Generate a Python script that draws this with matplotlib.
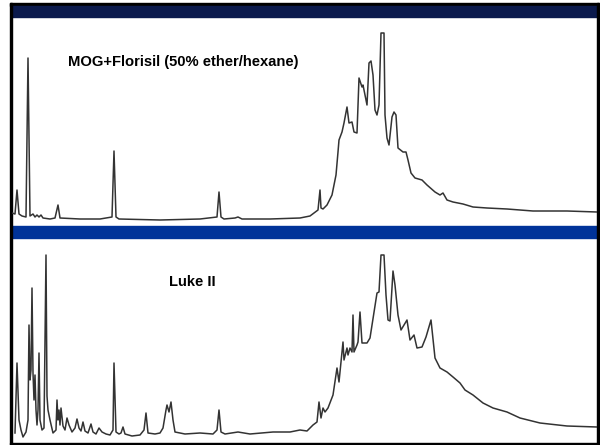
import matplotlib
matplotlib.use('Agg')
import matplotlib.pyplot as plt
from matplotlib.patches import Rectangle

# top trace: MOG + Florisil, retention position and detector response
mog_time = [12, 15, 17, 19, 22, 26, 28, 30, 33, 35, 37, 39, 41, 43, 50, 55, 58, 60,
            80, 100, 112, 114, 116, 119, 160, 200, 217, 219, 221, 224, 235, 238, 242,
            270, 300, 310, 318, 320, 321, 323, 327, 332, 336, 338, 339, 342, 344, 347,
            349, 352, 354, 357, 359, 362, 363, 365, 367, 369, 371, 373, 375, 377,
            379, 381, 384, 385, 387, 389, 392, 394, 396, 398, 403, 406, 408, 411, 415,
            422, 427, 435, 440, 443, 447, 453, 463, 473, 487, 507, 533, 567, 597]
mog_resp = [12, 11, 35, 11, 9, 8, 167, 9, 11, 8, 10, 8, 10, 7, 6, 7, 20, 7,
            6, 6, 8, 74, 8, 6, 5, 6, 8, 33, 8, 6, 7, 8, 6,
            6, 7, 9, 15, 35, 17, 16, 20, 30, 50, 73, 85, 93, 102, 118,
            102, 103, 93, 92, 147, 138, 140, 130, 120, 162, 164, 150, 115, 110,
            120, 192, 192, 110, 87, 80, 108, 113, 110, 77, 73, 73, 65, 52, 47,
            45, 40, 33, 30, 32, 25, 23, 21, 18, 17, 16, 14, 14, 13]

# bottom trace: Luke II
luke_time = [15, 17, 19, 21, 23, 26, 28, 29, 30, 31, 32, 33, 34, 35, 36, 37, 38, 39,
             40, 42, 44, 46, 47, 48, 50, 53, 56, 57, 58, 59, 60, 61, 63, 65, 67, 69,
             72, 75, 77, 79, 81, 83, 85, 88, 91, 93, 96, 99, 102, 106, 110, 113, 114,
             116, 119, 121, 123, 125, 132, 140, 144, 146, 148, 155, 160, 163, 166, 167,
             169, 171, 173, 175, 185, 200, 213, 217, 219, 221, 225, 238, 250, 273, 290,
             300, 307, 313, 317, 319, 321, 323, 325, 328, 333, 337, 339, 343, 344, 347,
             348, 350, 352, 353, 354, 357, 358, 360, 362, 367, 370, 374, 377, 379,
             381, 384, 386, 388, 390, 393, 395, 398, 401, 404, 407, 410, 414,
             417, 422, 426, 431, 435, 440, 447, 453, 460, 465, 473, 483, 493, 507,
             520, 540, 567, 597]
luke_resp = [9, 79, 22, 12, 5, 10, 22, 117, 62, 72, 154, 69, 42, 67, 32, 17, 32, 89,
             22, 12, 14, 187, 46, 32, 22, 9, 12, 42, 22, 32, 17, 34, 16, 12, 24, 17,
             10, 14, 23, 14, 11, 20, 11, 9, 18, 10, 8, 14, 10, 8, 7, 12, 79,
             10, 8, 9, 15, 8, 6, 7, 12, 29, 9, 8, 9, 14, 32, 37,
             30, 40, 22, 10, 8, 9, 8, 12, 32, 10, 8, 10, 8, 10, 10,
             12, 11, 17, 20, 40, 24, 34, 30, 34, 47, 74, 60, 100, 82, 94,
             87, 94, 90, 127, 90, 97, 100, 130, 99, 99, 104, 130, 149, 150,
             187, 187, 147, 122, 121, 171, 157, 127, 112, 117, 122, 102, 107,
             94, 95, 105, 122, 84, 74, 70, 65, 59, 52, 47, 39, 34, 30,
             24, 19, 16, 15]

titles = ['MOG+Florisil (50% ether/hexane)', 'Luke II']

W, H = 600, 445


def frame(ax):
    # slide decorations in pixel units
    ax.add_patch(Rectangle((10, 3), 589, 3, color='black'))
    ax.add_patch(Rectangle((12, 6), 586, 11, color='#0b1a4d'))
    ax.add_patch(Rectangle((12, 226), 586, 12, color='#003399'))
    ax.add_patch(Rectangle((10, 3), 2, 441, color='black'))
    ax.add_patch(Rectangle((597, 3), 2, 441, color='black'))
    ax.add_patch(Rectangle((10, 442.5), 589, 2, color='black'))


def trace_axes(fig, top, bottom, t, r):
    ax = fig.add_axes([12 / W, (H - bottom) / H, 585 / W, (bottom - top) / H])
    ax.plot(t, r, color='#333333', lw=1.1)
    ax.set_xlim(12, 597)
    ax.set_ylim(0, bottom - top)
    ax.axis('off')
    ax.patch.set_alpha(0)
    return ax


def main():
    fig = plt.figure(figsize=(6, 4.45), dpi=100)
    bg = fig.add_axes([0, 0, 1, 1])
    bg.set_xlim(0, W)
    bg.set_ylim(H, 0)
    bg.axis('off')
    frame(bg)

    trace_axes(fig, 17, 225, mog_time, mog_resp)
    trace_axes(fig, 238, 442, luke_time, luke_resp)

    font = dict(family='Liberation Sans', weight='bold', size=10.6)
    bg.text(68, 62, titles[0], va='center', ha='left', **font)
    bg.text(192, 282, titles[1], va='center', ha='center', **font)

    fig.savefig('out.png', dpi=100)


if __name__ == "__main__":
    main()
